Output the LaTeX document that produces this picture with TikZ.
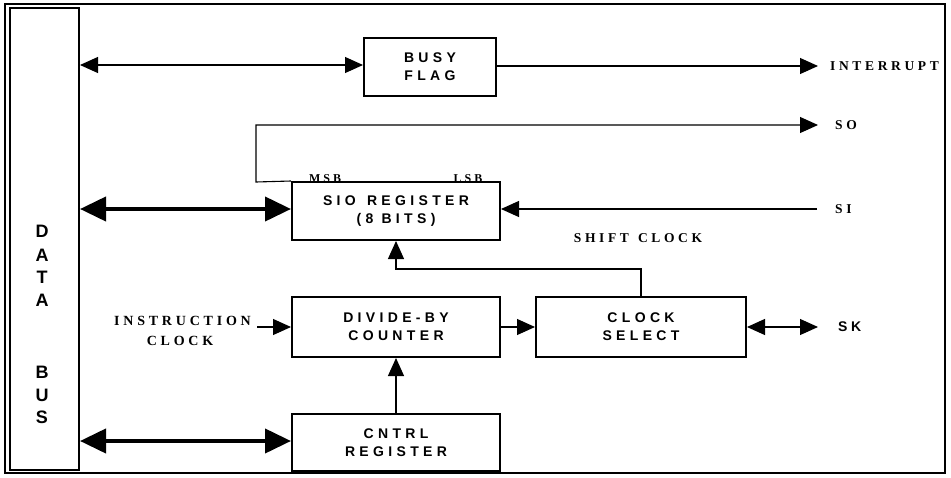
\documentclass[tikz,border=0pt]{standalone}
\usepackage{fontspec}
\setmainfont{Liberation Serif}
\setsansfont{Liberation Sans}
\usetikzlibrary{arrows.meta}
\newcommand{\boxfnt}{\sffamily\bfseries\fontsize{14}{18}\selectfont\addfontfeature{LetterSpace=31}}
\newcommand{\lblfnt}{\rmfamily\bfseries\fontsize{13.5}{16}\selectfont\addfontfeature{LetterSpace=27}}
\newcommand{\insfnt}{\rmfamily\bfseries\fontsize{14}{20}\selectfont\addfontfeature{LetterSpace=27}}
\newcommand{\smlfnt}{\rmfamily\bfseries\fontsize{12}{13}\selectfont\addfontfeature{LetterSpace=25}}
\newcommand{\busfnt}{\sffamily\bfseries\fontsize{18}{20}\selectfont}
\begin{document}
\begin{tikzpicture}[x=1pt,y=-1pt,
  blk/.style={draw, line width=2pt, minimum width=208pt, minimum height=58pt, align=center, inner sep=0pt, font=\boxfnt},
  thin/.style={line width=1.1pt},
  tri/.tip={Triangle[length=18pt,width=16pt]},
  bigtri/.tip={Triangle[length=26pt,width=24pt]},
  onearr/.style={thin, -tri},
  twoarr/.style={thin, tri-tri},
  busarr/.style={line width=4pt, bigtri-bigtri},
  lbl/.style={font=\lblfnt, inner sep=0pt},
  sml/.style={font=\smlfnt, inner sep=0pt},
  buslet/.style={font=\busfnt, inner sep=0pt}]
\useasboundingbox (0,0) rectangle (951,477);
\draw[line width=1.5pt] (5,4) rectangle (945,473);
% data bus
\node[draw, line width=2pt, minimum width=69pt, minimum height=462pt, inner sep=0pt] (bus) at (44.5,239) {};
\node[buslet] (d1) at (42,231.5) {D};
\node[buslet] (d2) at (42,255) {A};
\node[buslet] (d3) at (42,277) {T};
\node[buslet] (d4) at (42,300) {A};
\node[buslet] (d5) at (42,372) {B};
\node[buslet] (d6) at (42,395) {U};
\node[buslet] (d7) at (42,417) {S};
% blocks
\node[blk, minimum width=132pt] (busy) at (430,67) {BUSY\\FLAG};
\node[blk] (sio) at (396,211) {SIO\hspace{3pt} REGISTER\\(8 BITS)};
\node[blk, minimum height=60pt] (div) at (396,327) {DIVIDE-BY\\COUNTER};
\node[blk, minimum width=210pt, minimum height=60pt] (clk) at (641,327) {CLOCK\\SELECT};
\node[blk, minimum height=57pt] (cntrl) at (396,442.5) {CNTRL\\REGISTER};
% labels
\node[lbl, anchor=west] (intl) at (830,66) {INTERRUPT};
\node[lbl, anchor=west] (sol) at (835,125) {SO};
\node[lbl, anchor=west] (sil) at (835,209) {SI};
\node[font=\sffamily\bfseries\fontsize{14}{16}\selectfont\addfontfeature{LetterSpace=25}, inner sep=0pt, anchor=west] (skl) at (838,327) {SK};
\node[lbl] (shl) at (638,238) {SHIFT\hspace{2pt} CLOCK};
\node[sml, anchor=base] (msb) at (325,182) {MSB};
\node[sml, anchor=base] (lsb) at (468,182) {LSB};
\node[font=\insfnt, inner sep=0pt, anchor=base east] (ins) at (251,325) {INSTRUCTION};
\node[font=\insfnt, inner sep=0pt, anchor=base] (insc) at (180,345) {CLOCK};
% coordinates
\coordinate (intT) at (818,66);
\coordinate (soT) at (818,125);
\coordinate (soC) at (256,125);
\coordinate (soB) at (256,182);
\coordinate (siS) at (817,209);
\coordinate (skT) at (818,327);
\coordinate (insS) at (257,327);
\coordinate (mid) at (396,269);
% connectors
\draw[twoarr] (bus.east |- 0,65) -- (busy.west |- 0,65);
\draw[onearr] (busy.east |- intT) -- (intT);
\draw[onearr] (sio.north west) -- (soB) -- (soC) -- (soT);
\draw[onearr] (siS) -- (sio.east |- siS);
\draw[busarr] (bus.east |- 0,209) -- (sio.west |- 0,209);
\draw[onearr] (clk.north) |- (mid) -- (sio.south);
\draw[onearr] (div.east) -- (clk.west);
\draw[twoarr] (clk.east) -- (skT);
\draw[onearr] (insS) -- (div.west);
\draw[onearr] (cntrl.north) -- (div.south);
\draw[busarr] (bus.east |- 0,441) -- (cntrl.west |- 0,441);
\end{tikzpicture}
\end{document}
